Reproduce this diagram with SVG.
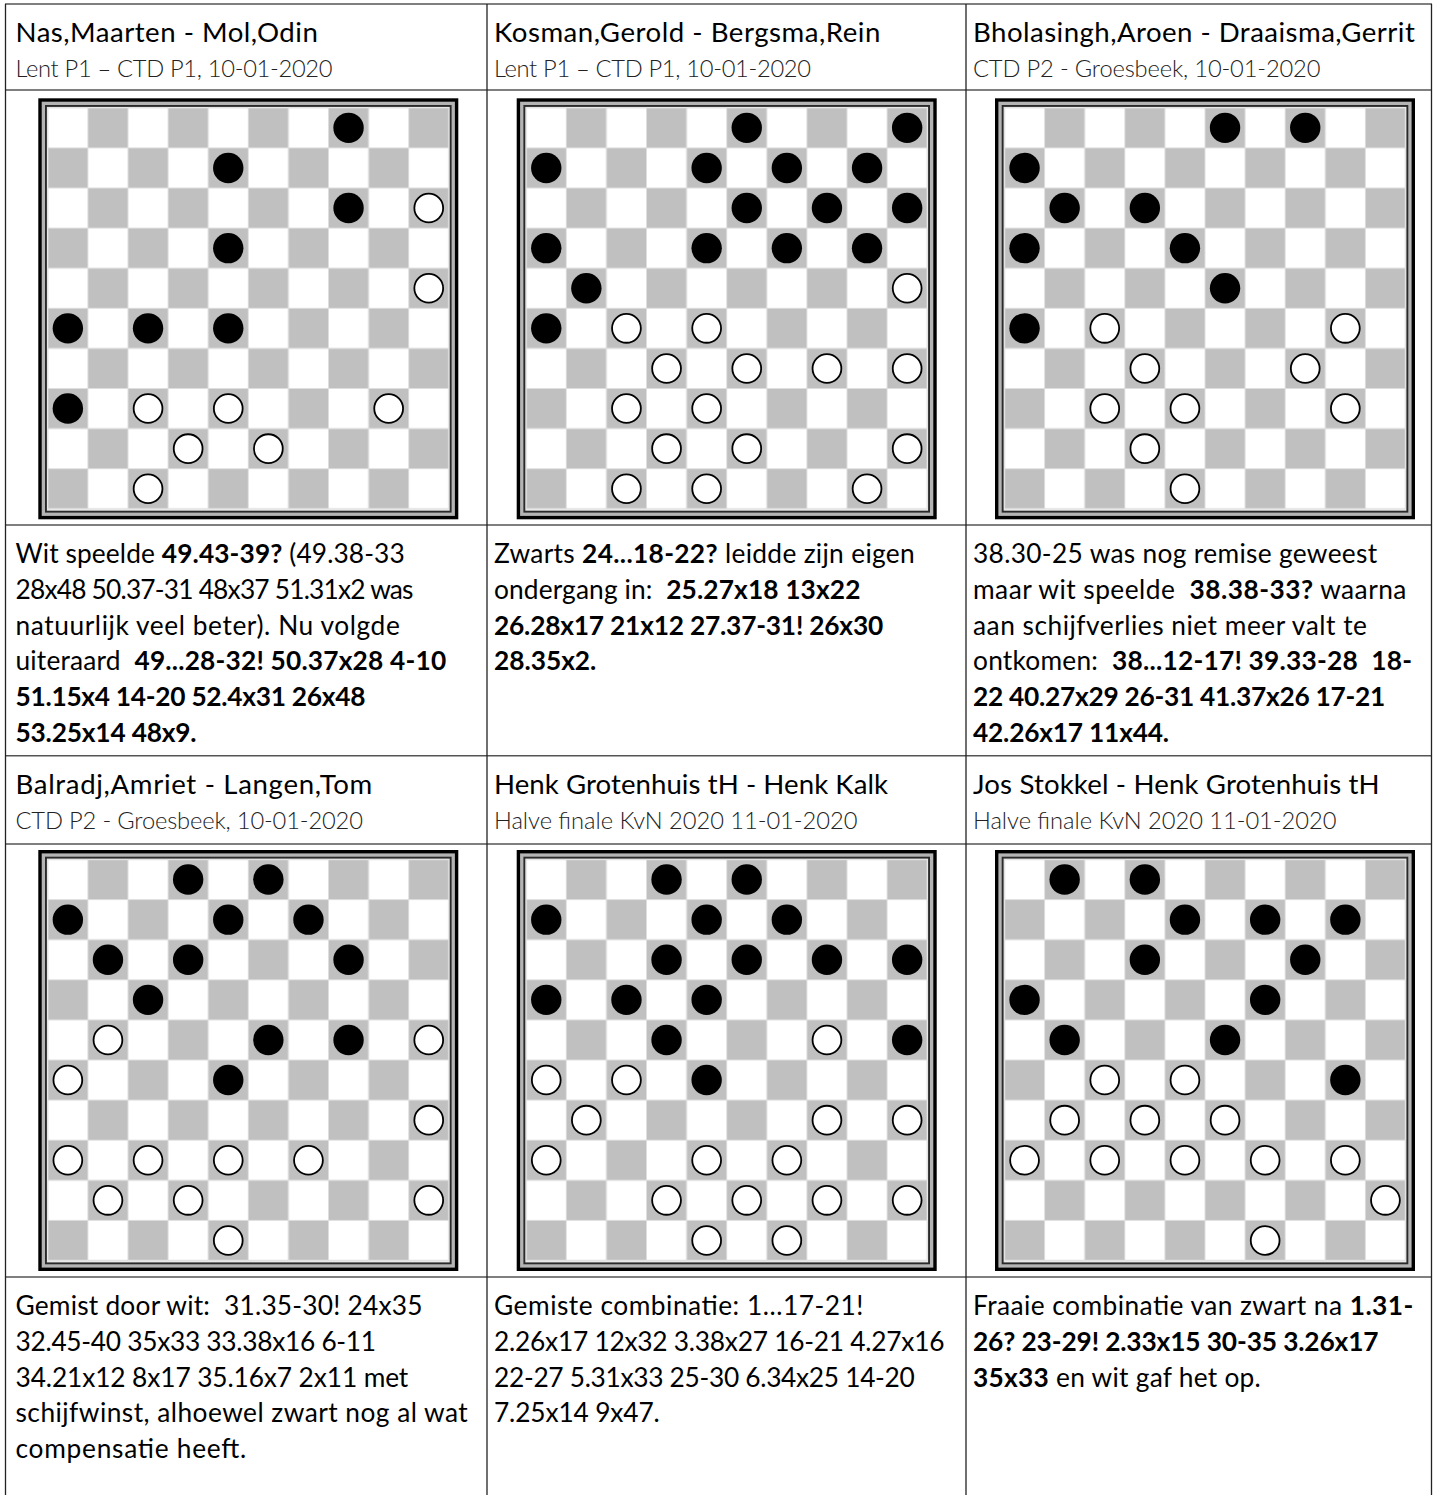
<svg xmlns="http://www.w3.org/2000/svg" xmlns:xlink="http://www.w3.org/1999/xlink" width="1434" height="1495" viewBox="0 0 1434 1495">
<style>
text{font-family:Lato,"Open Sans","Liberation Sans",sans-serif;fill:#000;white-space:pre}
.ti{font-size:27.6px}
.su{font-size:23.7px;font-weight:300;fill:#222}
.tx{font-size:26.3px}
.bd{font-weight:700}
.hl{stroke:#555;stroke-width:1.5;fill:none}
.vl{stroke:#222;stroke-width:1.3;fill:none}
</style>
<defs>
<pattern id="chk" patternUnits="userSpaceOnUse" x="9.5" y="9.5" width="80.2" height="80.2">
<rect width="80.2" height="80.2" fill="#dedede"/>
<rect x="0.5" y="0.5" width="39.1" height="39.1" fill="#fff"/>
<rect x="40.6" y="0.5" width="39.1" height="39.1" fill="#c0c0c0"/>
<rect x="0.5" y="40.6" width="39.1" height="39.1" fill="#c0c0c0"/>
<rect x="40.6" y="40.6" width="39.1" height="39.1" fill="#fff"/>
</pattern>
<g id="frame">
<rect width="420" height="421" fill="#000"/>
<rect x="3.4" y="3.4" width="413.2" height="414.2" fill="#b4b4b4"/>
<rect x="6.7" y="6.7" width="406.6" height="407.6" fill="#2a2a2a"/>
<rect x="8.6" y="8.6" width="402.8" height="403.8" fill="#e8e8e8"/>
<rect x="9.5" y="9.5" width="401" height="401" fill="url(#chk)"/>
</g>
<circle id="bp" r="15.2" fill="#000"/>
<circle id="wp" r="14.4" fill="#fff" stroke="#000" stroke-width="1.8"/>
</defs>
<rect width="1434" height="1495" fill="#fff"/>

<g id="grid">
<line class="hl" x1="5" y1="4" x2="1432" y2="4"/>
<line class="hl" x1="5" y1="90" x2="1432" y2="90"/>
<line class="hl" x1="5" y1="525" x2="1432" y2="525"/>
<line class="hl" x1="5" y1="755.7" x2="1432" y2="755.7"/>
<line class="hl" x1="5" y1="844" x2="1432" y2="844"/>
<line class="hl" x1="5" y1="1277" x2="1432" y2="1277"/>
<line class="vl" x1="5.5" y1="4" x2="5.5" y2="1495"/>
<line class="vl" x1="487" y1="4" x2="487" y2="1495"/>
<line class="vl" x1="966" y1="4" x2="966" y2="1495"/>
<line class="vl" x1="1431.5" y1="4" x2="1431.5" y2="1495"/>
</g>

<g id="game1">
<text class="ti" x="15.5" y="42" textLength="302.3">Nas,Maarten - Mol,Odin</text>
<text class="su" x="15.5" y="77" textLength="317">Lent P1 – CTD P1, 10-01-2020</text>
<g id="board1" transform="translate(38.3,98.3)">
<use href="#frame"/>
<use href="#bp" x="310.25" y="29.55"/><use href="#bp" x="189.95" y="69.65"/><use href="#bp" x="310.25" y="109.75"/><use href="#bp" x="189.95" y="149.85"/>
<use href="#bp" x="29.55" y="230.05"/><use href="#bp" x="109.75" y="230.05"/><use href="#bp" x="189.95" y="230.05"/><use href="#bp" x="29.55" y="310.25"/>
<use href="#wp" x="390.45" y="109.75"/><use href="#wp" x="390.45" y="189.95"/><use href="#wp" x="109.75" y="310.25"/><use href="#wp" x="189.95" y="310.25"/>
<use href="#wp" x="350.35" y="310.25"/><use href="#wp" x="149.85" y="350.35"/><use href="#wp" x="230.05" y="350.35"/><use href="#wp" x="109.75" y="390.45"/>
</g>
<text class="tx" x="15.5" y="563" textLength="389.2">Wit speelde <tspan class="bd">49.43-39?</tspan> (49.38-33</text>
<text class="tx" x="15.5" y="598.8" textLength="398">28x48 50.37-31 48x37 51.31x2 was</text>
<text class="tx" x="15.5" y="634.6" textLength="384.3">natuurlijk veel beter). Nu volgde</text>
<text class="tx" x="15.5" y="670.4" textLength="430.7">uiteraard  <tspan class="bd">49...28-32! 50.37x28 4-10</tspan></text>
<text class="tx bd" x="15.5" y="706.2" textLength="349.9">51.15x4 14-20 52.4x31 26x48</text>
<text class="tx bd" x="15.5" y="742" textLength="181.1">53.25x14 48x9.</text>
</g>

<g id="game2">
<text class="ti" x="494" y="42" textLength="386.3">Kosman,Gerold - Bergsma,Rein</text>
<text class="su" x="494" y="77" textLength="317">Lent P1 – CTD P1, 10-01-2020</text>
<g id="board2" transform="translate(516.7,98.3)">
<use href="#frame"/>
<use href="#bp" x="230.05" y="29.55"/><use href="#bp" x="390.45" y="29.55"/>
<use href="#bp" x="29.55" y="69.65"/><use href="#bp" x="189.95" y="69.65"/><use href="#bp" x="270.15" y="69.65"/><use href="#bp" x="350.35" y="69.65"/>
<use href="#bp" x="230.05" y="109.75"/><use href="#bp" x="310.25" y="109.75"/><use href="#bp" x="390.45" y="109.75"/>
<use href="#bp" x="29.55" y="149.85"/><use href="#bp" x="189.95" y="149.85"/><use href="#bp" x="270.15" y="149.85"/><use href="#bp" x="350.35" y="149.85"/>
<use href="#bp" x="69.65" y="189.95"/><use href="#bp" x="29.55" y="230.05"/>
<use href="#wp" x="390.45" y="189.95"/>
<use href="#wp" x="109.75" y="230.05"/><use href="#wp" x="189.95" y="230.05"/>
<use href="#wp" x="149.85" y="270.15"/><use href="#wp" x="230.05" y="270.15"/><use href="#wp" x="310.25" y="270.15"/><use href="#wp" x="390.45" y="270.15"/>
<use href="#wp" x="109.75" y="310.25"/><use href="#wp" x="189.95" y="310.25"/>
<use href="#wp" x="149.85" y="350.35"/><use href="#wp" x="230.05" y="350.35"/><use href="#wp" x="390.45" y="350.35"/>
<use href="#wp" x="109.75" y="390.45"/><use href="#wp" x="189.95" y="390.45"/><use href="#wp" x="350.35" y="390.45"/>
</g>
<text class="tx" x="494" y="563" textLength="420.7">Zwarts <tspan class="bd">24...18-22?</tspan> leidde zijn eigen</text>
<text class="tx" x="494" y="598.8" textLength="366.4">ondergang in:  <tspan class="bd">25.27x18 13x22</tspan></text>
<text class="tx bd" x="494" y="634.6" textLength="389.2">26.28x17 21x12 27.37-31! 26x30</text>
<text class="tx bd" x="494" y="670.4" textLength="102.3">28.35x2.</text>
</g>

<g id="game3">
<text class="ti" x="973" y="42" textLength="441.8">Bholasingh,Aroen - Draaisma,Gerrit</text>
<text class="su" x="973" y="77" textLength="347.4">CTD P2 - Groesbeek, 10-01-2020</text>
<g id="board3" transform="translate(995,98.3)">
<use href="#frame"/>
<use href="#bp" x="230.05" y="29.55"/><use href="#bp" x="310.25" y="29.55"/>
<use href="#bp" x="29.55" y="69.65"/>
<use href="#bp" x="69.65" y="109.75"/><use href="#bp" x="149.85" y="109.75"/>
<use href="#bp" x="29.55" y="149.85"/><use href="#bp" x="189.95" y="149.85"/>
<use href="#bp" x="230.05" y="189.95"/>
<use href="#bp" x="29.55" y="230.05"/>
<use href="#wp" x="109.75" y="230.05"/><use href="#wp" x="350.35" y="230.05"/>
<use href="#wp" x="149.85" y="270.15"/><use href="#wp" x="310.25" y="270.15"/>
<use href="#wp" x="109.75" y="310.25"/><use href="#wp" x="189.95" y="310.25"/><use href="#wp" x="350.35" y="310.25"/>
<use href="#wp" x="149.85" y="350.35"/>
<use href="#wp" x="189.95" y="390.45"/>
</g>
<text class="tx" x="973" y="563" textLength="404.2">38.30-25 was nog remise geweest</text>
<text class="tx" x="973" y="598.8" textLength="433.4">maar wit speelde  <tspan class="bd">38.38-33?</tspan> waarna</text>
<text class="tx" x="973" y="634.6" textLength="393.9">aan schijfverlies niet meer valt te</text>
<text class="tx" x="973" y="670.4" textLength="439">ontkomen:  <tspan class="bd">38...12-17! 39.33-28  18-</tspan></text>
<text class="tx bd" x="973" y="706.2" textLength="412.3">22 40.27x29 26-31 41.37x26 17-21</text>
<text class="tx bd" x="973" y="742" textLength="196">42.26x17 11x44.</text>
</g>

<g id="game4">
<text class="ti" x="15.5" y="794" textLength="356.8">Balradj,Amriet - Langen,Tom</text>
<text class="su" x="15.5" y="829" textLength="347.4">CTD P2 - Groesbeek, 10-01-2020</text>
<g id="board4" transform="translate(38.3,850)">
<use href="#frame"/>
<use href="#bp" x="149.85" y="29.55"/><use href="#bp" x="230.05" y="29.55"/>
<use href="#bp" x="29.55" y="69.65"/><use href="#bp" x="189.95" y="69.65"/><use href="#bp" x="270.15" y="69.65"/>
<use href="#bp" x="69.65" y="109.75"/><use href="#bp" x="149.85" y="109.75"/><use href="#bp" x="310.25" y="109.75"/>
<use href="#bp" x="109.75" y="149.85"/>
<use href="#bp" x="230.05" y="189.95"/><use href="#bp" x="310.25" y="189.95"/>
<use href="#bp" x="189.95" y="230.05"/>
<use href="#wp" x="69.65" y="189.95"/><use href="#wp" x="390.45" y="189.95"/>
<use href="#wp" x="29.55" y="230.05"/>
<use href="#wp" x="390.45" y="270.15"/>
<use href="#wp" x="29.55" y="310.25"/><use href="#wp" x="109.75" y="310.25"/><use href="#wp" x="189.95" y="310.25"/><use href="#wp" x="270.15" y="310.25"/>
<use href="#wp" x="69.65" y="350.35"/><use href="#wp" x="149.85" y="350.35"/><use href="#wp" x="390.45" y="350.35"/>
<use href="#wp" x="189.95" y="390.45"/>
</g>
<text class="tx" x="15.5" y="1315" textLength="407">Gemist door wit:  31.35-30! 24x35</text>
<text class="tx" x="15.5" y="1350.8" textLength="360.6">32.45-40 35x33 33.38x16 6-11</text>
<text class="tx" x="15.5" y="1386.6" textLength="392.8">34.21x12 8x17 35.16x7 2x11 met</text>
<text class="tx" x="15.5" y="1422.4" textLength="452.3">schijfwinst, alhoewel zwart nog al wat</text>
<text class="tx" x="15.5" y="1458.2" textLength="230.8">compensatie heeft.</text>
</g>

<g id="game5">
<text class="ti" x="494" y="794" textLength="394">Henk Grotenhuis tH - Henk Kalk</text>
<text class="su" x="494" y="829" textLength="363.4">Halve finale KvN 2020 11-01-2020</text>
<g id="board5" transform="translate(516.7,850)">
<use href="#frame"/>
<use href="#bp" x="149.85" y="29.55"/><use href="#bp" x="230.05" y="29.55"/>
<use href="#bp" x="29.55" y="69.65"/><use href="#bp" x="189.95" y="69.65"/><use href="#bp" x="270.15" y="69.65"/>
<use href="#bp" x="149.85" y="109.75"/><use href="#bp" x="230.05" y="109.75"/><use href="#bp" x="310.25" y="109.75"/><use href="#bp" x="390.45" y="109.75"/>
<use href="#bp" x="29.55" y="149.85"/><use href="#bp" x="109.75" y="149.85"/><use href="#bp" x="189.95" y="149.85"/>
<use href="#bp" x="149.85" y="189.95"/><use href="#bp" x="390.45" y="189.95"/>
<use href="#bp" x="189.95" y="230.05"/>
<use href="#wp" x="310.25" y="189.95"/>
<use href="#wp" x="29.55" y="230.05"/><use href="#wp" x="109.75" y="230.05"/>
<use href="#wp" x="69.65" y="270.15"/><use href="#wp" x="310.25" y="270.15"/><use href="#wp" x="390.45" y="270.15"/>
<use href="#wp" x="29.55" y="310.25"/><use href="#wp" x="189.95" y="310.25"/><use href="#wp" x="270.15" y="310.25"/>
<use href="#wp" x="149.85" y="350.35"/><use href="#wp" x="230.05" y="350.35"/><use href="#wp" x="310.25" y="350.35"/><use href="#wp" x="390.45" y="350.35"/>
<use href="#wp" x="189.95" y="390.45"/><use href="#wp" x="270.15" y="390.45"/>
</g>
<text class="tx" x="494" y="1315" textLength="369.4">Gemiste combinatie: 1...17-21!</text>
<text class="tx" x="494" y="1350.8" textLength="450.5">2.26x17 12x32 3.38x27 16-21 4.27x16</text>
<text class="tx" x="494" y="1386.6" textLength="420.8">22-27 5.31x33 25-30 6.34x25 14-20</text>
<text class="tx" x="494" y="1422.4" textLength="165.8">7.25x14 9x47.</text>
</g>

<g id="game6">
<text class="ti" x="973" y="794" textLength="406.6">Jos Stokkel - Henk Grotenhuis tH</text>
<text class="su" x="973" y="829" textLength="363.4">Halve finale KvN 2020 11-01-2020</text>
<g id="board6" transform="translate(995,850)">
<use href="#frame"/>
<use href="#bp" x="69.65" y="29.55"/><use href="#bp" x="149.85" y="29.55"/>
<use href="#bp" x="189.95" y="69.65"/><use href="#bp" x="270.15" y="69.65"/><use href="#bp" x="350.35" y="69.65"/>
<use href="#bp" x="149.85" y="109.75"/><use href="#bp" x="310.25" y="109.75"/>
<use href="#bp" x="29.55" y="149.85"/><use href="#bp" x="270.15" y="149.85"/>
<use href="#bp" x="69.65" y="189.95"/><use href="#bp" x="230.05" y="189.95"/>
<use href="#bp" x="350.35" y="230.05"/>
<use href="#wp" x="109.75" y="230.05"/><use href="#wp" x="189.95" y="230.05"/>
<use href="#wp" x="69.65" y="270.15"/><use href="#wp" x="149.85" y="270.15"/><use href="#wp" x="230.05" y="270.15"/>
<use href="#wp" x="29.55" y="310.25"/><use href="#wp" x="109.75" y="310.25"/><use href="#wp" x="189.95" y="310.25"/><use href="#wp" x="270.15" y="310.25"/><use href="#wp" x="350.35" y="310.25"/>
<use href="#wp" x="390.45" y="350.35"/>
<use href="#wp" x="270.15" y="390.45"/>
</g>
<text class="tx" x="973" y="1315" textLength="440.3">Fraaie combinatie van zwart na <tspan class="bd">1.31-</tspan></text>
<text class="tx bd" x="973" y="1350.8" textLength="405.6">26? 23-29! 2.33x15 30-35 3.26x17</text>
<text class="tx" x="973" y="1386.6" textLength="287.8"><tspan class="bd">35x33</tspan> en wit gaf het op.</text>
</g>
</svg>
